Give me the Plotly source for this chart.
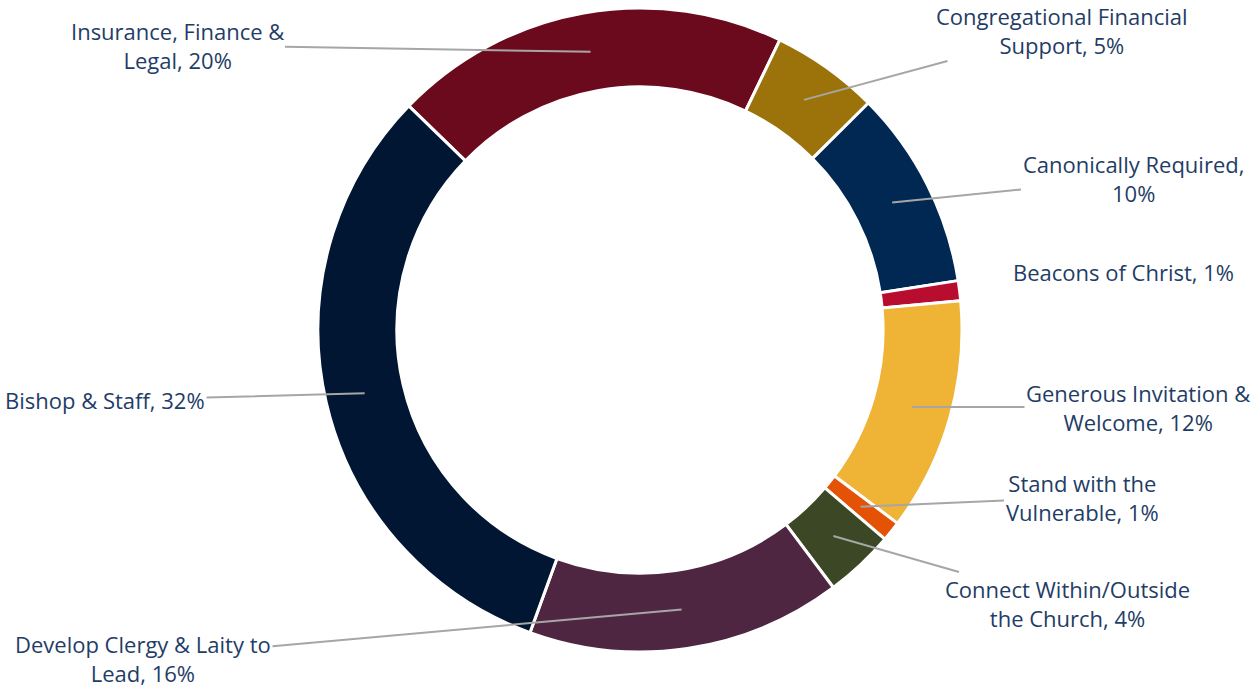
import math
import plotly.graph_objects as go

# ---- data ----
categories = [
    "Insurance, Finance & Legal",
    "Congregational Financial Support",
    "Canonically Required",
    "Beacons of Christ",
    "Generous Invitation & Welcome",
    "Stand with the Vulnerable",
    "Connect Within/Outside the Church",
    "Develop Clergy & Laity to Lead",
    "Bishop & Staff",
]
values = [19.9, 5.4, 10.0, 1.0, 11.7, 1.0, 3.5, 15.8, 31.7]
label_text = [
    "Insurance, Finance &<br>Legal, 20%",
    "Congregational Financial<br>Support, 5%",
    "Canonically Required,<br>10%",
    "Beacons of Christ, 1%",
    "Generous Invitation &<br>Welcome, 12%",
    "Stand with the<br>Vulnerable, 1%",
    "Connect Within/Outside<br>the Church, 4%",
    "Develop Clergy & Laity to<br>Lead, 16%",
    "Bishop & Staff, 32%",
]
colors = ["#6B0A1C", "#9C730A", "#002852", "#B90D30", "#EFB336",
          "#E35205", "#3B4725", "#4F2641", "#001633"]

# ---- layout / styling ----
W, H = 1252, 689
CX, CY, R = 640, 330, 322
HOLE = 0.755
ROTATION = 314.1
# label centre positions (pixels) and whether a leader line is drawn
label_pos = [(177, 45), (1062, 30), (1133, 178), (1123, 272), (1138, 407),
             (1082, 497), (1067, 603), (143, 658), (105, 400)]
show_leader = [True, True, True, False, True, True, True, True, True]
TEXT_COLOR = "#1F3D66"
FONT = "Open Sans"
FSIZE = 22

fig = go.Figure(go.Pie(
    labels=categories,
    values=values,
    hole=HOLE,
    sort=False,
    direction="clockwise",
    rotation=ROTATION,
    textinfo="none",
    marker=dict(colors=colors, line=dict(color="white", width=3)),
    domain=dict(x=[(CX - R) / W, (CX + R) / W],
                y=[(H - CY - R) / H, (H - CY + R) / H]),
    hoverinfo="label+percent",
))

total = sum(values)
r_mid = R * (1 + HOLE) / 2
annotations = []
cum = 0.0
for i, v in enumerate(values):
    mid = math.radians(ROTATION + (cum + v / 2) / total * 360)
    cum += v
    tx = CX + r_mid * math.sin(mid)
    ty = CY - r_mid * math.cos(mid)
    lx, ly = label_pos[i]
    font = dict(family=FONT, size=FSIZE, color=TEXT_COLOR)
    if show_leader[i]:
        annotations.append(dict(
            x=tx / W, y=1 - ty / H, xref="paper", yref="paper",
            ax=lx - tx, ay=ly - ty, axref="pixel", ayref="pixel",
            text=label_text[i], showarrow=True, arrowhead=0,
            arrowwidth=2, arrowcolor="#A6A6A6", standoff=0,
            font=font, align="center",
        ))
    else:
        annotations.append(dict(
            x=lx / W, y=1 - ly / H, xref="paper", yref="paper",
            xanchor="center", yanchor="middle",
            text=label_text[i], showarrow=False,
            font=font, align="center",
        ))

fig.update_layout(
    width=W, height=H,
    margin=dict(l=0, r=0, t=0, b=0),
    paper_bgcolor="white", plot_bgcolor="white",
    showlegend=False,
    annotations=annotations,
)

fig.write_html("out.html",
               config={"displayModeBar": False},
               post_script="document.body.style.margin='0';"
                           "document.body.style.overflow='hidden';")
